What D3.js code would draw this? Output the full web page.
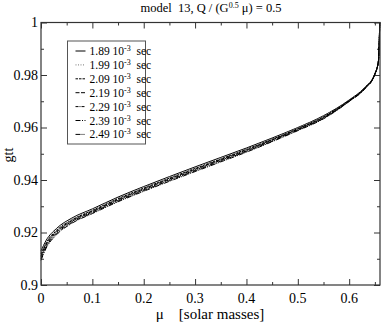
<!DOCTYPE html>
<html>
<head>
<meta charset="utf-8">
<script src="https://cdn.jsdelivr.net/npm/d3@7"></script>
<style>
  body { margin: 0; background: #fff; }
</style>
</head>
<body>
<div id="chart"></div>
<script>
// ---------------- data ----------------
const massX = [0, 0.01, 0.03, 0.06, 0.1, 0.15, 0.2, 0.25, 0.3, 0.35, 0.4, 0.45, 0.5, 0.55, 0.6, 0.63, 0.65, 0.657, 0.6595]

const g189 = [0.9130, 0.9170, 0.9215, 0.9255, 0.9290, 0.9335, 0.9375, 0.9413, 0.9450, 0.9486, 0.9522, 0.9560, 0.9600, 0.9645, 0.9705, 0.9752, 0.9805, 0.9855, 1.0]
const g199 = [0.9124, 0.9165, 0.9211, 0.9252, 0.9287, 0.9332, 0.9372, 0.9410, 0.9447, 0.9483, 0.9519, 0.9558, 0.9598, 0.9643, 0.9704, 0.9751, 0.9805, 0.9855, 1.0]
const g209 = [0.9118, 0.9160, 0.9207, 0.9248, 0.9284, 0.9329, 0.9369, 0.9407, 0.9444, 0.9480, 0.9517, 0.9555, 0.9596, 0.9641, 0.9703, 0.9750, 0.9804, 0.9854, 1.0]
const g219 = [0.9112, 0.9155, 0.9203, 0.9245, 0.9281, 0.9326, 0.9366, 0.9404, 0.9441, 0.9478, 0.9514, 0.9553, 0.9594, 0.9639, 0.9702, 0.9749, 0.9804, 0.9854, 1.0]
const g229 = [0.9106, 0.9150, 0.9199, 0.9242, 0.9278, 0.9323, 0.9363, 0.9401, 0.9438, 0.9475, 0.9511, 0.9551, 0.9592, 0.9637, 0.9701, 0.9748, 0.9803, 0.9854, 1.0]
const g239 = [0.9100, 0.9145, 0.9195, 0.9238, 0.9275, 0.9320, 0.9360, 0.9398, 0.9435, 0.9472, 0.9509, 0.9548, 0.9590, 0.9635, 0.9700, 0.9747, 0.9803, 0.9853, 1.0]
const g249 = [0.9094, 0.9140, 0.9191, 0.9235, 0.9272, 0.9317, 0.9357, 0.9395, 0.9432, 0.9469, 0.9506, 0.9546, 0.9588, 0.9633, 0.9699, 0.9746, 0.9802, 0.9853, 1.0]

const seriesLabels = ["1.89", "1.99", "2.09", "2.19", "2.29", "2.39", "2.49"]
const seriesValues = [g189, g199, g209, g219, g229, g239, g249]

const xTicks = [0, 0.1, 0.2, 0.3, 0.4, 0.5, 0.6]
const yTicks = [0.9, 0.92, 0.94, 0.96, 0.98, 1]

// ---------------- layout ----------------
const WIDTH = 382
const HEIGHT = 327
const LEFT = 41
const RIGHT = 380
const TOP = 22.5
const BOTTOM = 285

const MAJOR = 6
const MINOR = 3

const FONT = "Liberation Serif"

const dashes = ["none", "1,1.5", "2.5,1", "4,1.5", "3,1,1,1", "5,1.5,1,1.5", "5,1,1,1,1,1"]
const strokes = ["#000", "#777", "#000", "#000", "#000", "#000", "#000"]

const svg = d3.select("#chart").append("svg")
    .attr("width", WIDTH)
    .attr("height", HEIGHT)

const x = d3.scaleLinear().domain([0, 0.66]).range([LEFT, RIGHT])
const y = d3.scaleLinear().domain([0.9, 1.0]).range([BOTTOM, TOP])

// ticks pointing inward on all four sides
const xMinor = d3.range(0.05, 0.66, 0.1)
const yMinor = d3.range(0.91, 1.0, 0.02)

function inwardTicks(axis, pos, vals, size) {
    svg.append("g")
        .attr("transform", pos)
        .call(axis.tickValues(vals).tickSize(size).tickFormat(""))
        .call(g => g.select(".domain").remove())
}

inwardTicks(d3.axisTop(x), `translate(0,${BOTTOM})`, xTicks, MAJOR)
inwardTicks(d3.axisTop(x), `translate(0,${BOTTOM})`, xMinor, MINOR)
inwardTicks(d3.axisBottom(x), `translate(0,${TOP})`, xTicks, MAJOR)
inwardTicks(d3.axisBottom(x), `translate(0,${TOP})`, xMinor, MINOR)
inwardTicks(d3.axisRight(y), `translate(${LEFT},0)`, yTicks, MAJOR)
inwardTicks(d3.axisRight(y), `translate(${LEFT},0)`, yMinor, MINOR)
inwardTicks(d3.axisLeft(y), `translate(${RIGHT},0)`, yTicks, MAJOR)
inwardTicks(d3.axisLeft(y), `translate(${RIGHT},0)`, yMinor, MINOR)

svg.selectAll(".tick line").attr("stroke", "#333")

// tick labels
svg.append("g").selectAll("text")
    .data(xTicks)
    .join("text")
    .attr("font-family", FONT)
    .attr("font-size", 14)
    .attr("x", d => x(d))
    .attr("y", BOTTOM + 18)
    .attr("text-anchor", "middle")
    .text(d => d3.format("")(d))

svg.append("g").selectAll("text")
    .data(yTicks)
    .join("text")
    .attr("font-family", FONT)
    .attr("font-size", 14)
    .attr("x", LEFT - 3)
    .attr("y", d => y(d) + 4.5)
    .attr("text-anchor", "end")
    .text(d => d3.format("")(d))

// curves
const line = d3.line()
    .x(d => x(d[0]))
    .y(d => y(d[1]))
    .curve(d3.curveMonotoneX)

svg.append("g").selectAll("path")
    .data(seriesValues.map(v => massX.map((m, i) => [m, v[i]])))
    .join("path")
    .attr("fill", "none")
    .attr("stroke", (d, i) => strokes[i])
    .attr("stroke-width", 1)
    .attr("stroke-dasharray", (d, i) => dashes[i])
    .attr("d", line)

// frame
svg.append("rect")
    .attr("x", LEFT)
    .attr("y", TOP)
    .attr("width", RIGHT - LEFT)
    .attr("height", BOTTOM - TOP)
    .attr("fill", "none")
    .attr("stroke", "#333")
    .attr("stroke-width", 1.2)

// legend
const legend = svg.append("g").attr("transform", "translate(67.5,41)")
legend.append("rect")
    .attr("width", 78)
    .attr("height", 103)
    .attr("fill", "#fff")
    .attr("stroke", "#555")
    .attr("stroke-width", 1)

const rows = legend.selectAll("g.row")
    .data(seriesLabels)
    .join("g")
    .attr("class", "row")
    .attr("transform", (d, i) => `translate(0,${10 + i * 13.9})`)

rows.append("line")
    .attr("x1", 8)
    .attr("x2", 18)
    .attr("stroke", (d, i) => strokes[i])
    .attr("stroke-dasharray", (d, i) => dashes[i])

const lt = rows.append("text")
    .attr("font-family", FONT)
    .attr("font-size", 11.5)
    .attr("x", 22)
    .attr("y", 4)
    .style("white-space", "pre")
lt.append("tspan").text(d => d + " 10")
lt.append("tspan").attr("dy", -4).attr("font-size", 8).text("-3")
lt.append("tspan").attr("dy", 4).text("  sec")

// titles
const title = svg.append("text")
    .attr("font-family", FONT)
    .attr("font-size", 12.5)
    .attr("x", 211)
    .attr("y", 12)
    .attr("text-anchor", "middle")
    .style("white-space", "pre")
title.append("tspan").text("model  13, Q / (G")
title.append("tspan").attr("dy", -4).attr("font-size", 8).text("0.5")
title.append("tspan").attr("dy", 4).text(" μ) = 0.5")

svg.append("text")
    .attr("font-family", FONT)
    .attr("font-size", 14)
    .attr("transform", "translate(13,155) rotate(-90)")
    .attr("text-anchor", "middle")
    .text("gtt")

svg.append("text")
    .attr("font-family", FONT)
    .attr("font-size", 15)
    .attr("x", 210)
    .attr("y", 319)
    .attr("text-anchor", "middle")
    .style("white-space", "pre")
    .text("μ    [solar masses]")
</script>
</body>
</html>
